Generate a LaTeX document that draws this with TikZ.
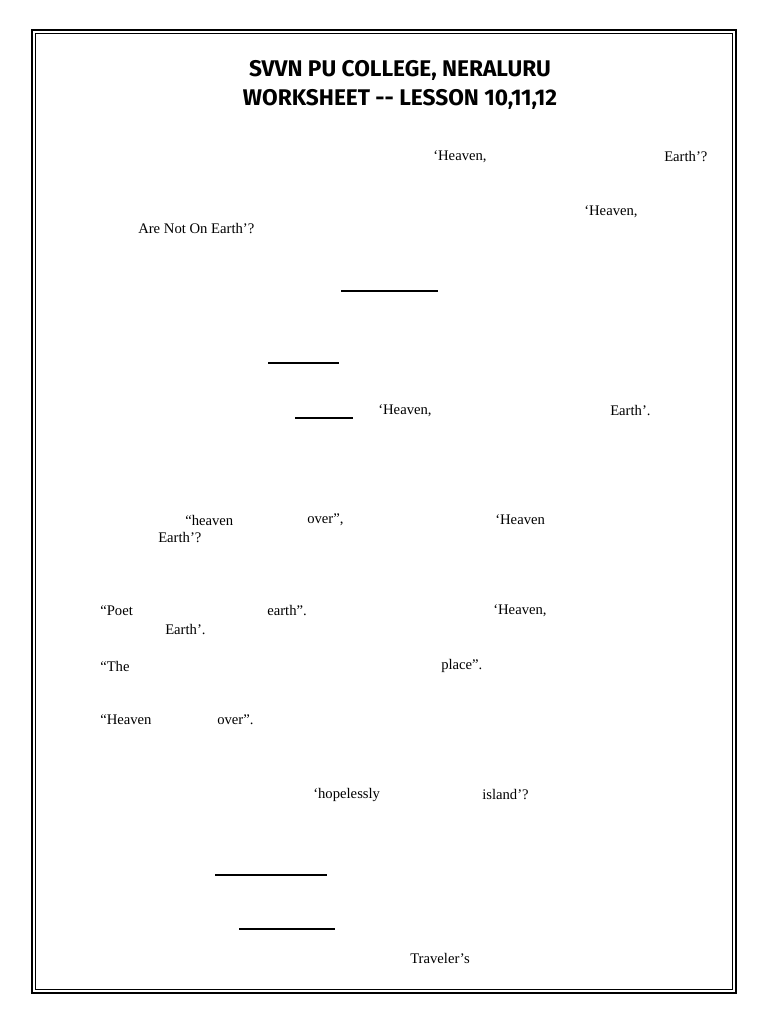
\documentclass[tikz,border=0pt]{standalone}
\usepackage{fontspec}
\setmainfont{Liberation Serif}
\newfontfamily\titlefont{Fira Sans}
\begin{document}
\begin{tikzpicture}[x=0.75pt,y=-0.75pt,
  txt/.style={anchor=west,inner sep=0pt,font=\fontsize{11}{13}\selectfont},
  blank/.style={line width=0.8pt},
  ttl/.style={font=\titlefont\bfseries\fontsize{17}{20}\selectfont}]
\useasboundingbox (0,0) rectangle (768,1024);
\fill[white] (0,0) rectangle (768,1024);
\draw[line width=1.6pt] (32,30) rectangle (736,993);
\draw[line width=0.5pt] (35.5,33.5) rectangle (732.5,989.5);
\node[ttl] (t1) at (400,70) {SVVN PU COLLEGE, NERALURU};
\node[ttl] (t2) at (400,99) {WORKSHEET -- LESSON 10,11,12};
\node[txt] (a1) at (433,157) {‘Heaven,};
\node[txt] (a2) at (664,157) {Earth’?};
\node[txt] (b1) at (584,212) {‘Heaven,};
\node[txt] (b2) at (138,229) {Are Not On Earth’?};
\draw[blank] (341,291) -- (438,291);
\draw[blank] (268,363) -- (339,363);
\draw[blank] (295,418) -- (353,418);
\node[txt] (c1) at (378,411) {‘Heaven,};
\node[txt] (c2) at (610,411) {Earth’.};
\node[txt] (d1) at (185,520) {“heaven};
\node[txt] (d2) at (307,520) {over”,};
\node[txt] (d3) at (495,520) {‘Heaven};
\node[txt] (d4) at (158,538) {Earth’?};
\node[txt] (e1) at (100,611) {“Poet};
\node[txt] (e2) at (267,611) {earth”.};
\node[txt] (e3) at (493,611) {‘Heaven,};
\node[txt] (e4) at (165,630) {Earth’.};
\node[txt] (f1) at (100,666) {“The};
\node[txt] (f2) at (441,666) {place”.};
\node[txt] (g1) at (100,720) {“Heaven};
\node[txt] (g2) at (217,720) {over”.};
\node[txt] (h1) at (313,795) {‘hopelessly};
\node[txt] (h2) at (482,795) {island’?};
\draw[blank] (215,875) -- (327,875);
\draw[blank] (239,929) -- (335,929);
\node[txt] (i1) at (410,958) {Traveler’s};
\end{tikzpicture}
\end{document}
